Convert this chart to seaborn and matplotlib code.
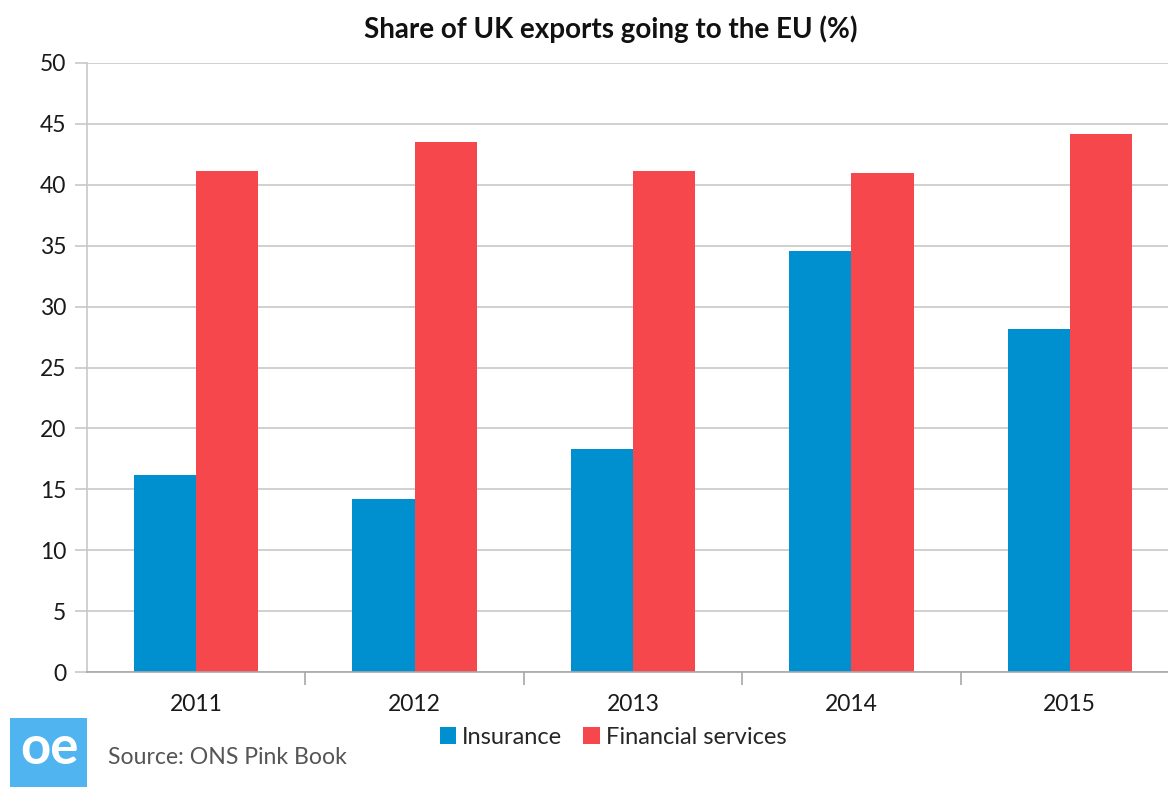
import matplotlib
matplotlib.use("Agg")
import matplotlib.pyplot as plt
import seaborn as sns
import pandas as pd
from matplotlib.patches import Rectangle, Patch

years = ["2011", "2012", "2013", "2014", "2015"]
insurance = [16.2, 14.2, 18.3, 34.6, 28.2]
financial = [41.1, 43.5, 41.1, 41.0, 44.2]
series_names = ["Insurance", "Financial services"]
colors = ["#008FCF", "#F6484C"]

df = pd.DataFrame({
    "year": years * 2,
    "value": insurance + financial,
    "series": [series_names[0]] * len(years) + [series_names[1]] * len(years),
})

sns.set_theme(style="white")
plt.rcParams["font.family"] = ["Lato", "DejaVu Sans"]

fig = plt.figure(figsize=(11.68, 7.87), dpi=100)
# plot area runs slightly past the right edge of the canvas
ax = fig.add_axes([87 / 1168, 0.146, 1092 / 1168, 0.774])

sns.barplot(data=df, x="year", y="value", hue="series", palette=colors,
            width=0.57, gap=0, ax=ax, legend=False, saturation=1,
            edgecolor="none", linewidth=0)

ax.set_ylim(0, 50)
ax.set_xlim(-0.5, len(years) - 0.5)
ax.set_yticks(range(0, 51, 5))
ax.yaxis.grid(True, color="#C8C8C8", linewidth=1.2)
ax.set_axisbelow(True)
ax.set_xlabel("")
ax.set_ylabel("")

for side in ["top", "right"]:
    ax.spines[side].set_visible(False)
ax.spines["left"].set_color("#C8C8C8")
ax.spines["bottom"].set_color("#A8A8A8")
ax.spines["left"].set_linewidth(1.2)
ax.spines["bottom"].set_linewidth(1.2)

ax.tick_params(axis="y", which="major", left=True, length=9, width=1.2,
               color="#C8C8C8", labelsize=16.5, labelcolor="#1a1a1a", pad=6)
ax.tick_params(axis="x", which="major", bottom=False, labelsize=16.5,
               labelcolor="#1a1a1a", pad=10)
ax.set_xticks([i - 0.5 for i in range(1, len(years) + 1)], minor=True)
ax.tick_params(axis="x", which="minor", bottom=True, length=9, width=1.2,
               color="#A8A8A8")

fig.text(611 / 1168, 1 - 29 / 787, "Share of UK exports going to the EU (%)",
         fontsize=20, fontweight="bold", color="#111111",
         ha="center", va="center")

handles = [Patch(facecolor=c, edgecolor="none") for c in colors]
fig.legend(handles, series_names, loc="center", bbox_to_anchor=(613 / 1168, 0.063),
           ncol=2, frameon=False, fontsize=17, handlelength=0.7,
           handleheight=0.7, handletextpad=0.25, columnspacing=0.9)

# logo block and source note
fig.patches.append(Rectangle((10 / 1168, 0), 77 / 1168, 69 / 787,
                             transform=fig.transFigure, facecolor="#4FB4F0",
                             edgecolor="none"))
fig.text(49 / 1168, 38 / 787, "oe", color="white", fontsize=38,
         fontweight="bold", ha="center", va="center")
fig.text(108 / 1168, 30 / 787, "Source: ONS Pink Book", color="#555555",
         fontsize=16.6, ha="left", va="center")

fig.savefig("out.png", dpi=100)
